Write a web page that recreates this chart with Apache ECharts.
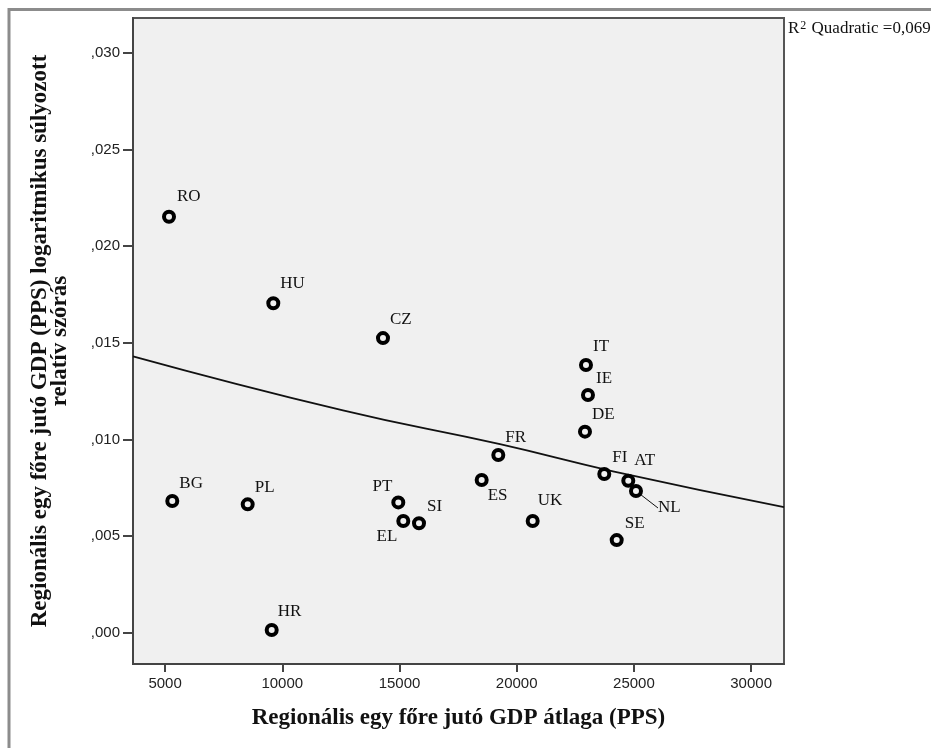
<!DOCTYPE html>
<html>
<head>
<meta charset="utf-8">
<script src="https://cdn.jsdelivr.net/npm/echarts@6/dist/echarts.min.js"></script>
<style>html,body{margin:0;padding:0;background:#fff;}#c{width:931px;height:748px;}</style>
</head>
<body>
<div id="c"></div>
<script>
// ---- data ----
const countries = ['RO','HU','CZ','IT','IE','DE','FR','ES','FI','AT','NL','SE','UK','PT','EL','SI','BG','PL','HR'];
const gdpPPS = [5167, 9616, 14296, 22956, 23041, 22913, 19215, 18506, 23736, 24760, 25089, 24266, 20682, 14949, 15162, 15832, 5307, 8524, 9548];
const logDispersion = [0.02152, 0.01704, 0.01524, 0.01385, 0.01230, 0.01040, 0.00919, 0.00790, 0.00821, 0.00786, 0.00733, 0.00479, 0.00578, 0.00674, 0.00578, 0.00566, 0.00681, 0.00664, 0.00014];
// quadratic fit line
const fitX = [3631, 12589, 19287, 24108, 31403];
const fitY = [0.01430, 0.01150, 0.00975, 0.00835, 0.00650];
const xTicks = [5000, 10000, 15000, 20000, 25000, 30000];
const yTicks = [0, 0.005, 0.010, 0.015, 0.020, 0.025, 0.030];
const yTickLabels = [',000', ',005', ',010', ',015', ',020', ',025', ',030'];
const xTitle = 'Regionális egy főre jutó GDP átlaga (PPS)';
const yTitle = 'Regionális egy főre jutó GDP (PPS) logaritmikus súlyozott\nrelatív szórás';
const fitNote = 'Quadratic =0,069';

// ---- styling: label offsets from point centre [dx, dy, align] ----
const labelOffsets = {
  RO:[8,-20], HU:[7,-20], CZ:[7,-19], IT:[7,-18], IE:[8,-16], DE:[7,-17],
  FR:[7,-18], ES:[6,16], FI:[8,-16], AT:[6,-20], NL:[22,17], SE:[8,-17],
  UK:[5,-20], PT:[-6,-16,'right'], EL:[-6,16,'right'], SI:[8,-17],
  BG:[7,-18], PL:[7,-17], HR:[6,-18]
};
const leaderLabels = ['NL'];

const chart = echarts.init(document.getElementById('c'), null, {renderer: 'canvas'});
const serif = '"Liberation Serif", "Times New Roman", serif';
const sans = '"Liberation Sans", Arial, sans-serif';

const pts = countries.map((c, i) => ({
  name: c, value: [gdpPPS[i], logDispersion[i]],
  labelLine: {show: leaderLabels.indexOf(c) >= 0}
}));
const fitData = fitX.map((x, i) => [x, fitY[i]]);

chart.setOption({
  animation: false,
  backgroundColor: '#ffffff',
  grid: {left: 133, top: 18, right: 147, bottom: 84, show: true, backgroundColor: '#f0f0f0', borderColor: '#555', borderWidth: 2},
  xAxis: {
    type: 'value', min: 3631, max: 31403,
    axisLine: {show: true, onZero: false, lineStyle: {color: '#444', width: 2}},
    axisTick: {show: true, customValues: xTicks, length: 8, lineStyle: {color: '#444', width: 2}},
    axisLabel: {customValues: xTicks, margin: 12, color: '#222', fontFamily: sans, fontSize: 15,
      formatter: v => String(Math.round(v))},
    splitLine: {show: false},
    name: xTitle, nameLocation: 'middle', nameGap: 43,
    nameTextStyle: {fontFamily: serif, fontWeight: 'bold', fontSize: 23, color: '#111'}
  },
  yAxis: {
    type: 'value', min: -0.00162, max: 0.0318,
    axisLine: {show: true, onZero: false, lineStyle: {color: '#444', width: 2}},
    axisTick: {show: true, customValues: yTicks, length: 10, lineStyle: {color: '#444', width: 2}},
    axisLabel: {customValues: yTicks, margin: 13, color: '#222', fontFamily: sans, fontSize: 15,
      formatter: v => { const k = yTicks.findIndex(t => Math.abs(t - v) < 1e-9); return k >= 0 ? yTickLabels[k] : ''; }},
    splitLine: {show: false},
    name: yTitle, nameLocation: 'middle', nameGap: 63,
    nameTextStyle: {fontFamily: serif, fontWeight: 'bold', fontSize: 23, lineHeight: 20, color: '#111'}
  },
  graphic: [
    {type: 'rect', shape: {x: 9, y: 9.5, width: 1200, height: 1200}, style: {fill: 'none', stroke: '#8c8c8c', lineWidth: 3}, silent: true},
    {type: 'text', left: 788, top: 20, style: {
      text: '{r|R}{s|2}{t| ' + fitNote + '}',
      rich: {
        r: {fontFamily: serif, fontSize: 17, fill: '#111', verticalAlign: 'bottom'},
        s: {fontFamily: serif, fontSize: 12, fill: '#111', verticalAlign: 'top', padding: [0, 1, 0, 1]},
        t: {fontFamily: serif, fontSize: 17, fill: '#111', verticalAlign: 'bottom'}
      }
    }}
  ],
  series: [
    {
      type: 'line', data: fitData, smooth: true, symbol: 'none', silent: true,
      lineStyle: {color: '#111', width: 1.8}, z: 2
    },
    {
      type: 'scatter', data: pts, symbol: 'circle', symbolSize: 10, z: 3,
      itemStyle: {color: '#f0f0f0', borderColor: '#000', borderWidth: 4, opacity: 1},
      label: {show: true, formatter: p => p.name, fontFamily: serif, fontSize: 17, color: '#111'},
      labelLine: {show: false, lineStyle: {color: '#111', width: 1}},
      labelLayout: function (p) {
        const o = labelOffsets[countries[p.dataIndex]];
        const cx = p.rect.x + p.rect.width / 2, cy = p.rect.y + p.rect.height / 2;
        return {x: cx + o[0], y: cy + o[1], align: o[2] || 'left', verticalAlign: 'middle'};
      }
    }
  ]
});
</script>
</body>
</html>
